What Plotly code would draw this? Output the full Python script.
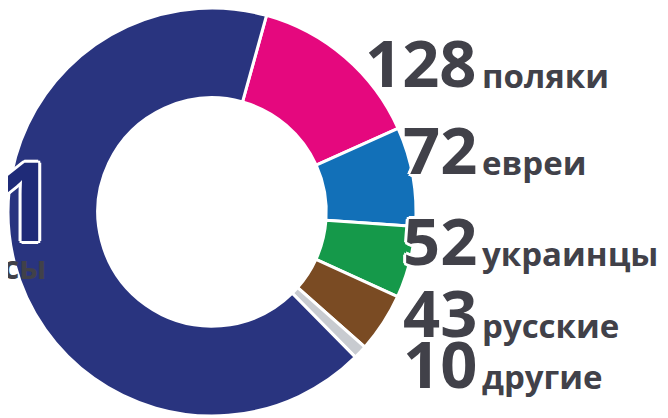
import plotly.graph_objects as go

labels = ["поляки", "евреи", "украинцы", "русские", "другие", "белорусы"]
values = [128, 72, 52, 43, 10, 611]
colors = ["#e5087e", "#1270b8", "#15994a", "#7a4b23", "#c8cbd0", "#29347f"]

OFF = 8                      # default page margin of the html body
W, H = 668 - OFF, 418 - OFF  # figure size so it fits the window


def px(x):
    """page pixel x -> paper fraction"""
    return (x - OFF) / W


def py(y):
    """page pixel y -> paper fraction"""
    return 1 - (y - OFF) / H


# donut placement (page pixels): centre (212, 212), outer radius 204
cx, cy, R = 212, 212, 204

fig = go.Figure(go.Pie(
    labels=labels,
    values=values,
    marker=dict(colors=colors, line=dict(color="white", width=3)),
    hole=0.56,
    sort=False,
    direction="clockwise",
    rotation=15.5,
    textinfo="none",
    hoverinfo="label+value",
    showlegend=False,
    domain=dict(x=[max(0, px(cx - R)), min(1, px(cx + R))],
                y=[max(0, py(cy + R)), min(1, py(cy - R))]),
))

txt = "#414149"
halo = ("3px 0 0 white, -3px 0 0 white, 0 3px 0 white, 0 -3px 0 white, "
        "2px 2px 0 white, -2px -2px 0 white, 2px -2px 0 white, -2px 2px 0 white")

NUM, WORD = 65, 33
baselines = [85, 172, 263, 335, 386]
ann = []
for lab, val, base in zip(labels[:5], values[:5], baselines):
    ann.append(dict(
        x=px(479), y=py(base + 2 - 0.388 * NUM), xref="paper", yref="paper",
        xanchor="right", yanchor="middle", showarrow=False,
        text=str(val),
        font=dict(family="Open Sans", size=NUM, color=txt, weight=700, shadow=halo),
    ))
    ann.append(dict(
        x=px(480), y=py(base + 3 - 0.388 * WORD), xref="paper", yref="paper",
        xanchor="left", yanchor="middle", showarrow=False,
        text=lab,
        font=dict(family="Open Sans", size=WORD, color=txt, weight=700),
    ))

# left label for the large slice (mostly cut off by the frame)
BIG = 110
ann.append(dict(
    x=px(58), y=py(241 - 0.388 * BIG), xref="paper", yref="paper",
    xanchor="right", yanchor="middle", showarrow=False,
    text=str(values[5]),
    font=dict(family="Open Sans", size=BIG, color="#1f2b78", weight=700, shadow=halo),
))
ann.append(dict(
    x=px(48), y=py(279 - 0.388 * 32), xref="paper", yref="paper",
    xanchor="right", yanchor="middle", showarrow=False,
    text=labels[5],
    font=dict(family="Open Sans", size=32, color=txt, weight=700),
))

fig.update_layout(
    width=W, height=H,
    margin=dict(l=0, r=0, t=0, b=0),
    paper_bgcolor="white", plot_bgcolor="white",
    annotations=ann,
)

fig.write_html("out.html")
